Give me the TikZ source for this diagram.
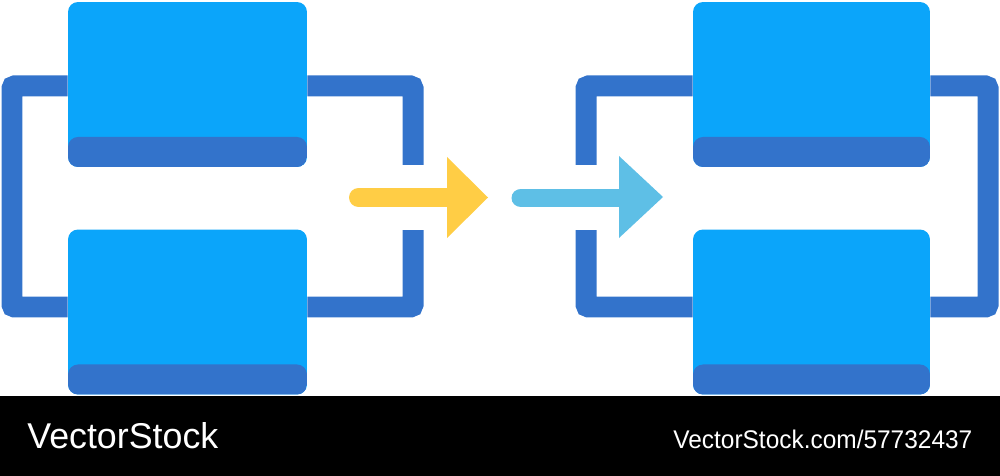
\documentclass[tikz,border=0pt]{standalone}
\usepackage{fontspec}
\setmainfont{Liberation Sans}
\usepackage{graphicx}
\usetikzlibrary{backgrounds}
\definecolor{boxblue}{HTML}{0BA5FA}
\definecolor{darkblue}{HTML}{3373CB}
\definecolor{arrowyellow}{HTML}{FFCD45}
\definecolor{arrowblue}{HTML}{5EBFE6}
\tikzset{
  box/.style={rectangle, rounded corners=0.2cm, fill=boxblue, minimum width=4.78cm, minimum height=3.3cm, inner sep=0pt,
    path picture={\fill[darkblue] (path picture bounding box.south west) rectangle ([yshift=0.6cm]path picture bounding box.south east);}},
  frame/.style={draw=darkblue, line width=0.42cm, rounded corners=1.5pt},
  shaft/.style={line width=0.38cm, line cap=round},
}
\begin{document}
\begin{tikzpicture}[x=0.02cm, y=-0.02cm]
\useasboundingbox (0,0) rectangle (1000,476);
% boxes
\node[box] (tl) at (187.5,84.5) {};
\node[box] (bl) at (187.5,312) {};
\node[box, minimum width=4.74cm] (tr) at (811.5,84.5) {};
\node[box, minimum width=4.74cm] (br) at (811.5,312) {};
% frame corner coordinates
\coordinate (c1) at (12,86);
\coordinate (c2) at (12,307);
\coordinate (c3) at (413,86);
\coordinate (g1) at (413,165);
\coordinate (c4) at (413,307);
\coordinate (g2) at (413,230);
\coordinate (d1) at (586,86);
\coordinate (h1) at (586,165);
\coordinate (d2) at (586,307);
\coordinate (h2) at (586,230);
\coordinate (d3) at (988,86);
\coordinate (d4) at (988,307);
\begin{scope}[on background layer]
\draw[frame] (tl.west |- c1) -- (c1) -- (c2) -- (bl.west |- c2);
\draw[frame] (tl.east |- c3) -- (c3) -- (g1);
\draw[frame] (bl.east |- c4) -- (c4) -- (g2);
\draw[frame] (tr.west |- d1) -- (d1) -- (h1);
\draw[frame] (br.west |- d2) -- (d2) -- (h2);
\draw[frame] (tr.east |- d3) -- (d3) -- (d4) -- (br.east |- d4);
\end{scope}
% yellow arrow
\draw[shaft, arrowyellow] (358.5,197.5) -- (449,197.5);
\fill[arrowyellow] (447,157) -- (488,197.5) -- (447,238) -- cycle;
% light blue arrow
\draw[shaft, arrowblue] (521,198) -- (621,198);
\fill[arrowblue] (619,156) -- (663,197) -- (619,238) -- cycle;
% bottom bar
\fill[black] (0,396) rectangle (1000,476);
\node[anchor=base west, inner sep=0pt, text=white] (brand) at (27,448) {\resizebox{3.82cm}{0.52cm}{VectorStock}};
\node[anchor=base west, inner sep=0pt, text=white] (ref) at (673,448) {\resizebox{5.98cm}{0.37cm}{VectorStock.com/57732437}};
\end{tikzpicture}
\end{document}
